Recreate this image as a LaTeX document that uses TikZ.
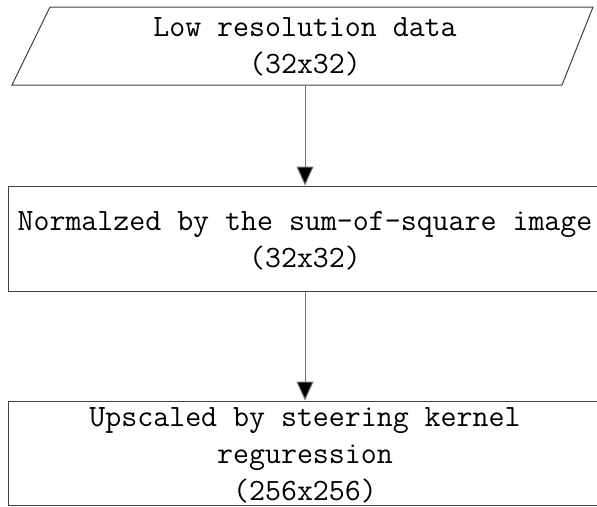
\documentclass[tikz,border=0pt]{standalone}
\usepackage{fontspec}
\usepackage{tikz}
\usetikzlibrary{arrows.meta}

\tikzset{
    stepline/.style={draw=black!75, line width=1pt},
    flowarrow/.style={draw=black!55, line width=1pt, -{Triangle[length=19pt,width=17pt,fill=black]}},
    boxtext/.style={align=center, inner sep=0pt, font=\ttfamily\fontsize{31}{37}\selectfont},
    stepbox/.style={stepline, rectangle, inner sep=0pt, minimum width=594pt}
}

\begin{document}
\begin{tikzpicture}[x=1pt, y=-1pt]
    \useasboundingbox (0,0) rectangle (597,506);

    % Input data
    \draw[stepline] (12,85) -- (50,7) -- (593,7) -- (562,85) -- cycle;
    \node[boxtext] (low) at (305,47) {Low resolution data\\(32x32)};
    \coordinate (lowbottom) at (305,85);

    % Normalization
    \node[stepbox, minimum height=105pt] (norm) at (305,238.5) {};
    \node[boxtext] (normtext) at (305,241) {Normalzed by the sum-of-square image\\(32x32)};

    % Upscaling
    \node[stepbox, minimum height=104pt] (upscale) at (305,453) {};
    \node[boxtext] (upscaletext) at (305,455) {Upscaled by steering kernel\\reguression\\(256x256)};

    % Arrows
    \draw[flowarrow] (lowbottom) -- (norm.north);
    \draw[flowarrow] (norm.south) -- (upscale.north);
\end{tikzpicture}
\end{document}
